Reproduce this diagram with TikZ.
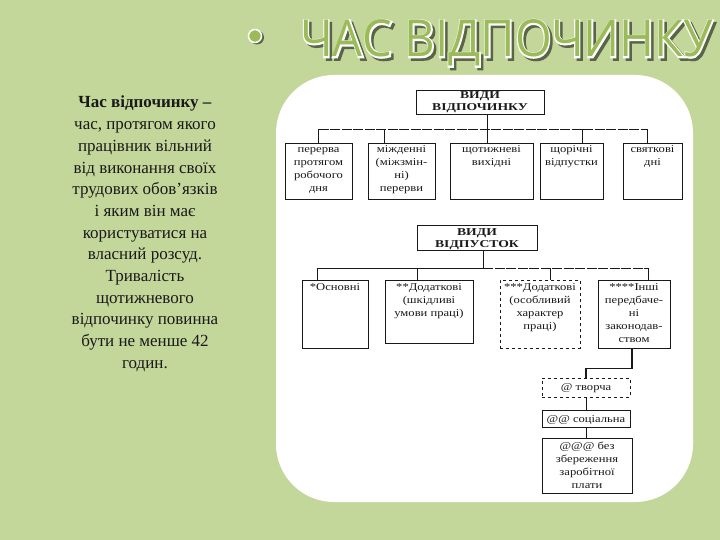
\documentclass[tikz,border=0pt]{standalone}
\usepackage{fontspec}
\setmainfont{Liberation Serif}
\newfontfamily\titlefont{Open Sans}
\newfontfamily\titlefat[FakeBold=5]{Open Sans}
\newfontfamily\scanfont[FakeStretch=1.2]{Liberation Serif}
\newfontfamily\scanhead[FakeStretch=1.3]{Liberation Serif}
\usetikzlibrary{calc}
\definecolor{bg}{RGB}{196,215,155}
\definecolor{tgreen}{RGB}{155,187,89}
\definecolor{tshadow}{RGB}{90,100,70}
\definecolor{ink}{RGB}{25,25,25}
\newcommand{\bx}[4]{\parbox[c][#2pt][t]{#1pt}{\centering\rule{0pt}{#3pt}#4\par}}
\newcommand{\titletext}[1]{#1\fontsize{51}{51}\selectfont\scalebox{0.925}[1]{ЧАС ВІДПОЧИНКУ}}
\tikzset{
  bbox/.style={draw=ink, line width=0.8pt, inner sep=0pt, fill=white, text=ink,
    font=\scanfont\fontsize{10.5}{13}\selectfont},
  hbox/.style={bbox, font=\scanhead\bfseries\fontsize{10.5}{11.5}\selectfont},
  conn/.style={draw=ink, line width=0.8pt},
  hconn/.style={conn, dash pattern=on 10pt off 1.5pt},
}
\begin{document}
\begin{tikzpicture}[x=1pt,y=-1pt]
\useasboundingbox (0,0) rectangle (720,540);
\fill[bg] (0,0) rectangle (720,540);
% panel
\fill[white, rounded corners=58pt] (276,75) rectangle (693,502);
% title
\node[circle, fill=tshadow, inner sep=0, minimum size=14pt] (bulsh) at (257,37.5) {};
\node[circle, fill=tgreen, draw=white, line width=1.5pt, inner sep=0, minimum size=13pt] (bul) at (255,36) {};
\node[anchor=base west, inner sep=0] (tit) at (300,57)
  {\rlap{\hspace{2.5pt}\raisebox{-2.5pt}{\textcolor{tshadow}{\titletext{\titlefat}}}}%
   \rlap{\textcolor{white}{\titletext{\titlefat}}}%
   \textcolor{tgreen}{\titletext{\titlefont}}};
% left text
\node[anchor=north, align=center, inner sep=0, text=ink, font=\fontsize{17}{21.7}\selectfont] (def) at (145,96)
  {\textbf{Час відпочинку –}\\
   час, протягом якого\\
   працівник вільний\\
   від виконання своїх\\
   трудових обов'язків\\
   і яким він має\\
   користуватися на\\
   власний розсуд.\\
   Тривалість\\
   щотижневого\\
   відпочинку повинна\\
   бути не менше 42\\
   годин.};
% tree 1
\node[hbox] (vp) at (480,102) {\bx{128}{24}{9}{ВИДИ\\ВІДПОЧИНКУ}};
\node[bbox] (b1) at (318.5,171) {\bx{67}{56}{10}{перерва\\протягом\\робочого\\дня}};
\node[bbox] (b2) at (401.5,171) {\bx{67}{56}{10}{міжденні\\(міжзмін-\\ні)\\перерви}};
\node[bbox] (b3) at (491.5,171) {\bx{83}{56}{10}{щотижневі\\вихідні}};
\node[bbox] (b4) at (571.5,171) {\bx{63}{56}{10}{щорічні\\відпустки}};
\node[bbox] (b5) at (652.5,171) {\bx{59}{56}{10}{святкові\\дні}};
\coordinate (h1) at (487,129);
\coordinate (b2d) at ($(b2.north west)+(17,0)$);
\coordinate (b4d) at ($(b4.north east)+(-21,0)$);
\coordinate (b5d) at ($(b5.north)+(-5,0)$);
\draw[conn] (vp.south -| h1) -- (h1);
\draw[conn] (h1) -- (b3.north -| h1);
\draw[hconn] (b1.north |- h1) -- (b5d |- h1);
\draw[conn] (b1.north) -- (b1.north |- h1);
\draw[conn] (b2d) -- (b2d |- h1);
\draw[conn] (b4d) -- (b4d |- h1);
\draw[conn] (b5d) -- (b5d |- h1);
% tree 2
\node[hbox] (vs) at (477,237.5) {\bx{120}{25}{11}{ВИДИ\\ВІДПУСТОК}};
\node[bbox] (c1) at (335,314) {\bx{66}{68}{10}{*Основні}};
\node[bbox] (c2) at (429,311.5) {\bx{88}{63}{10}{**Додаткові\\(шкідливі\\умови праці)}};
\node[bbox, dashed] (c3) at (540,314) {\bx{80}{68}{10}{***Додаткові\\(особливий\\характер\\праці)}};
\node[bbox] (c4) at (634,314) {\bx{72}{68}{10}{****Інші\\передбаче-\\ні\\законодав-\\ством}};
\coordinate (h2) at (483,268);
\coordinate (c1d) at ($(c1.north west)+(16,0)$);
\coordinate (c2d) at ($(c2.north west)+(33,0)$);
\coordinate (c3d) at ($(c3.north)+(10,0)$);
\coordinate (c4d) at ($(c4.north)+(14,0)$);
\draw[conn] (vs.south -| h2) -- (h2);
\draw[conn] (c1d) |- (h2);
\draw[hconn] (h2) -- (c4d |- h2);
\draw[conn] (c4d |- h2) -- (c4d);
\draw[conn] (c2d) -- (c2d |- h2);
\draw[conn] (c3d) -- (c3d |- h2);
% chain
\node[bbox, dashed] (t1) at (586,387.5) {\bx{88}{19}{12.5}{@ творча}};
\node[bbox] (t2) at (586,418.5) {\bx{88}{17}{12}{@@ соціальна}};
\node[bbox] (t3) at (587,465.5) {\bx{90}{55}{11}{@@@ без\\збереження\\заробітної\\плати}};
\coordinate (c4b) at ($(c4.south)+(-2,0)$);
\draw[conn, line width=1.3pt] (c4b) -- ++(0,20) -| (t1.north);
\draw[conn] (t1.south) -- (t1.south |- t2.north);
\draw[conn] (t2.south) -- (t2.south |- t3.north);
\end{tikzpicture}
\end{document}
